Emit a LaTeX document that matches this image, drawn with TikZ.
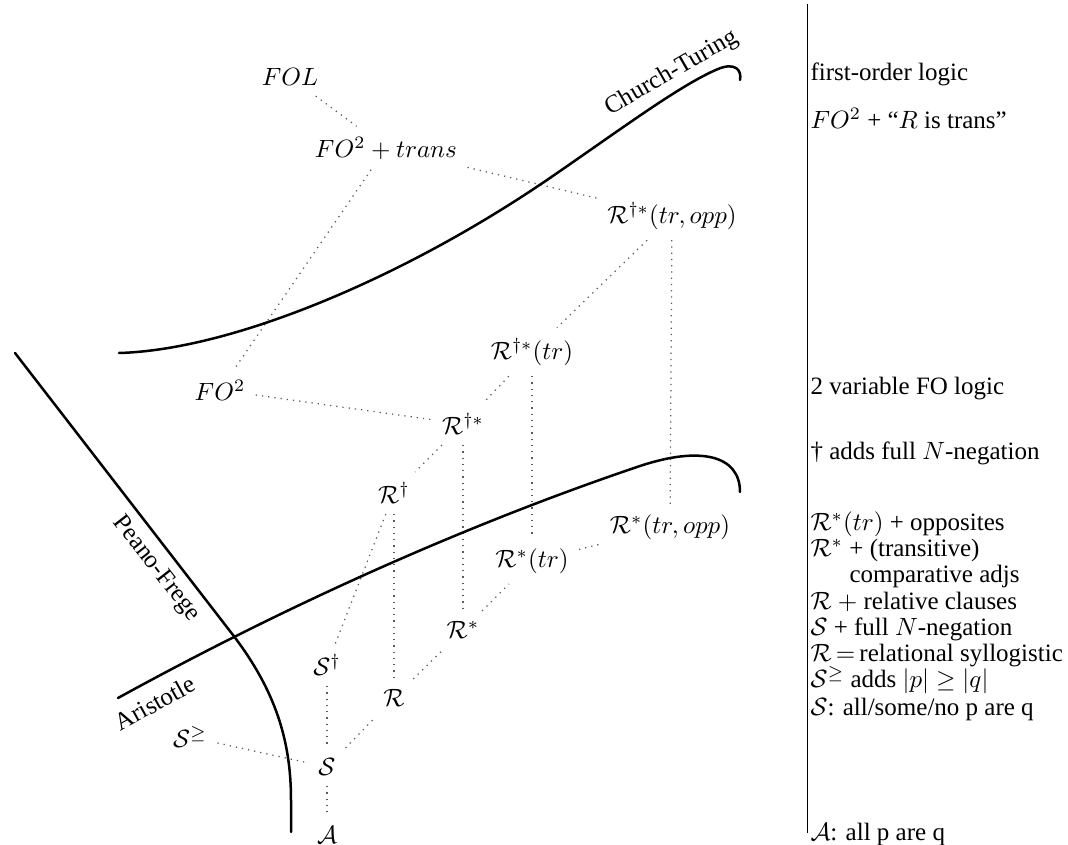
\documentclass[tikz,border=0pt]{standalone}
\usepackage{amsmath}
\usepackage{amssymb}
\usepackage{fontspec}
\setmainfont{Liberation Serif}
\usepackage{tikz}
\definecolor{dotgray}{RGB}{90, 90, 90}

\tikzset{
  lang/.style={inner sep=4pt},
  incl/.style={dotted, color=dotgray, line width=0.5pt},
  frontier/.style={line width=1pt, line cap=round},
  gloss/.style={anchor=base west, inner sep=0pt}
}

\begin{document}
\begin{tikzpicture}[x=0.4pt, y=-0.4pt]
  \useasboundingbox (0,0) rectangle (1068,845);

  % languages
  \node[lang] (FOL)  at (290,77)  {$FOL$};
  \node[lang] (FOtr) at (386,148) {$FO^2 + trans$};
  \node[lang] (Rdsto) at (672,216) {$\mathcal{R}^{\dagger *}(tr, opp)$};
  \node[lang] (Rdst) at (532,352) {$\mathcal{R}^{\dagger *}(tr)$};
  \node[lang] (FOtwo) at (220,390) {$FO^2$};
  \node[lang] (Rds)  at (463,424) {$\mathcal{R}^{\dagger *}$};
  \node[lang] (Rd)   at (394,493) {$\mathcal{R}^{\dagger}$};
  \node[lang] (Rsto) at (670,527) {$\mathcal{R}^{*}(tr, opp)$};
  \node[lang] (Rst)  at (532,561) {$\mathcal{R}^{*}(tr)$};
  \node[lang] (Rs)   at (463,630) {$\mathcal{R}^{*}$};
  \node[lang] (Sd)   at (327,665) {$\mathcal{S}^{\dagger}$};
  \node[lang] (R)    at (394,698) {$\mathcal{R}$};
  \node[lang] (Sgeq) at (190,737) {$\mathcal{S}^{\geq}$};
  \node[lang] (S)    at (327,767) {$\mathcal{S}$};
  \node[lang] (A)    at (327,835) {$\mathcal{A}$};

  % inclusions
  \draw[incl] (FOL) -- (FOtr);
  \draw[incl] (FOtr) -- (Rdsto);
  \draw[incl] (FOtr) -- (FOtwo);
  \draw[incl] (Rdsto) -- (Rdst);
  \draw[incl] (Rdsto) -- (Rsto);
  \draw[incl] (Rdst) -- (Rds);
  \draw[incl] (Rdst) -- (Rst);
  \draw[incl] (FOtwo) -- (Rds);
  \draw[incl] (Rds) -- (Rd);
  \draw[incl] (Rds) -- (Rs);
  \draw[incl] (Rd) -- (Sd);
  \draw[incl] (Rd) -- (R);
  \draw[incl] (Rst) -- (Rsto);
  \draw[incl] (Rs) -- (Rst);
  \draw[incl] (R) -- (Rs);
  \draw[incl] (Sd) -- (S);
  \draw[incl] (S) -- (R);
  \draw[incl] (Sgeq) -- (S);
  \draw[incl] (S) -- (A);

  % frontiers
  \draw[frontier] (119,353) .. controls (230,350) and (400,280) .. (547,180)
    .. controls (620,130) and (680,85) .. (718,69)
    .. controls (735,62) and (742,70) .. (740,80);
  \draw[frontier] (118,698) .. controls (300,598) and (480,520) .. (640,466)
    .. controls (700,446) and (740,455) .. (740,492);
  \draw[frontier] (15,353) -- (233,635)
    .. controls (275,690) and (291,740) .. (291,800) -- (291,832);
  \node[rotate=30] (church) at (672,73) {Church-Turing};
  \node[rotate=-52] (peano) at (156,569) {Peano-Frege};
  \node[rotate=29] (aristotle) at (155,703) {Aristotle};

  % glosses
  \draw (807,4) -- (807,833);
  \node[gloss] (gFOL)  at (810,81)  {first-order logic};
  \node[gloss] (gFOtr) at (810,129) {$FO^2$ + ``$R$ is trans''};
  \node[gloss] (gFOtwo) at (810,395) {2 variable FO logic};
  \node[gloss] (gdag)  at (810,460) {\textdagger{} adds full $N$-negation};
  \node[gloss] (gRsto) at (810,531) {$\mathcal{R}^*(tr)$ + opposites};
  \node[gloss] (gRst)  at (810,557) {$\mathcal{R}^*$ + (transitive)};
  \node[gloss] (gcomp) at (849,583) {comparative adjs};
  \node[gloss] (gRs)   at (810,610) {$\mathcal{R}$ $+$ relative clauses};
  \node[gloss] (gSd)   at (810,636) {$\mathcal{S}$ + full $N$-negation};
  \node[gloss] (gR)    at (810,662) {$\mathcal{R}$\,$=$\,relational syllogistic};
  \node[gloss] (gSgeq) at (810,688) {$\mathcal{S}^{\geq}$ adds $|p| \geq |q|$};
  \node[gloss] (gS)    at (810,715) {$\mathcal{S}$: all/some/no p are q};
  \node[gloss] (gA)    at (810,840) {$\mathcal{A}$: all p are q};
\end{tikzpicture}
\end{document}
